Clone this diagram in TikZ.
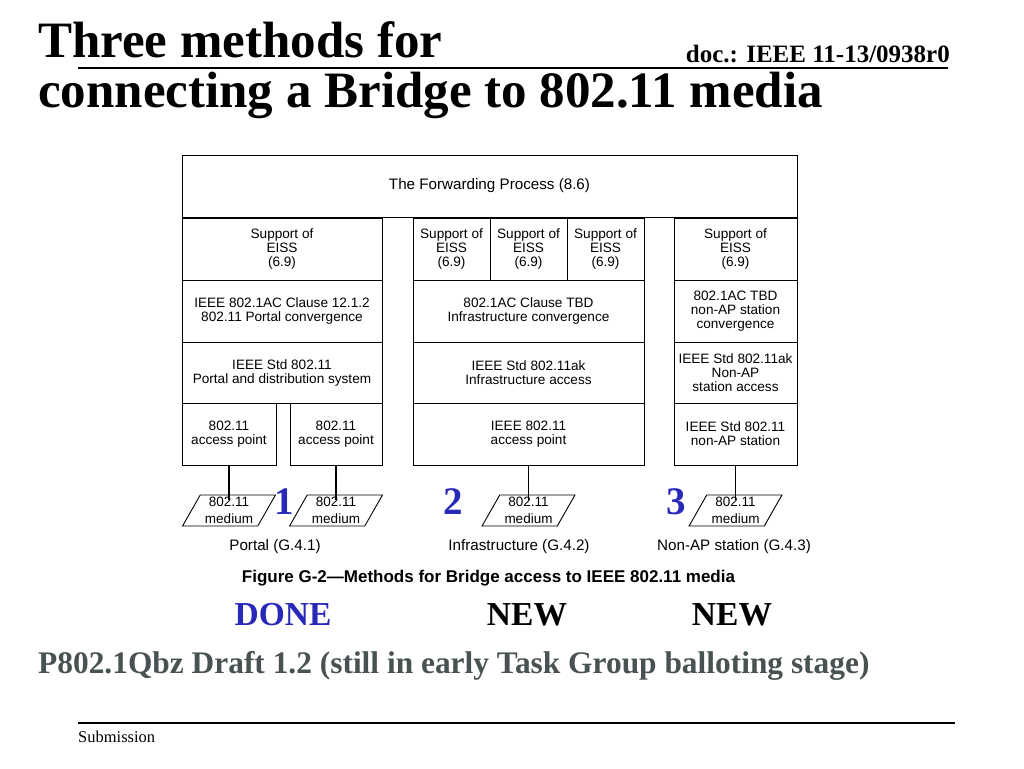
\documentclass[tikz,border=0pt]{standalone}
\usepackage{fontspec}
\setmainfont{Liberation Serif}
\setsansfont{Liberation Sans}
\usetikzlibrary{shapes.geometric}
\definecolor{numblue}{RGB}{40,40,185}
\definecolor{subgrey}{RGB}{72,82,82}
\begin{document}
\begin{tikzpicture}[x=1pt,y=-1pt,
 box/.style={draw, line width=0.9pt, inner sep=0pt, align=center, font=\sffamily\fontsize{13.6}{14}\selectfont},
 med/.style={draw, trapezium, trapezium left angle=61, trapezium right angle=119, trapezium stretches=true, minimum width=93, minimum height=31, inner sep=0pt, line width=0.9pt, align=center, font=\sffamily\fontsize{13.5}{17}\selectfont},
 conn/.style={line width=1.6pt, shorten >=-5pt},
 num/.style={inner sep=0pt, font=\bfseries\fontsize{39}{39}\selectfont, text=numblue},
 lab/.style={inner sep=0pt, font=\sffamily\fontsize{15.2}{17}\selectfont},
 ttl/.style={inner sep=0pt, anchor=base west, font=\bfseries\fontsize{51}{51}\selectfont},
 rule/.style={line width=1.3pt},
]
\useasboundingbox (0,0) rectangle (1024,768);
% header
\node[ttl] (t1) at (38,58) {Three methods for};
\node[ttl] (t2) at (38,107) {connecting a Bridge to 802.11 media};
\node[inner sep=0pt, anchor=base east, font=\bfseries\fontsize{25}{25}\selectfont] (doc) at (950,63) {doc.: IEEE 11-13/0938r0};
\coordinate (hl) at (78,68); \coordinate (hr) at (948,68);
\draw[rule] (hl) -- (hr);
% diagram
\node[box, minimum width=615, minimum height=62, font=\sffamily\fontsize{15.2}{16}\selectfont] (fp) at (489.5,186) {The Forwarding Process (8.6)};
\node[box, minimum width=200, minimum height=62] (s1) at (282,249) {Support of\\EISS\\(6.9)};
\node[box, minimum width=77, minimum height=62] (s2) at (451.5,249) {Support of\\EISS\\(6.9)};
\node[box, minimum width=77, minimum height=62] (s3) at (528.5,249) {Support of\\EISS\\(6.9)};
\node[box, minimum width=77, minimum height=62] (s4) at (605.5,249) {Support of\\EISS\\(6.9)};
\node[box, minimum width=123, minimum height=62] (s5) at (735.5,249) {Support of\\EISS\\(6.9)};
\node[box, minimum width=200, minimum height=62] (c1) at (282,311) {IEEE 802.1AC Clause 12.1.2\\802.11 Portal convergence};
\node[box, minimum width=231, minimum height=62] (c2) at (528.5,311) {802.1AC Clause TBD\\Infrastructure convergence};
\node[box, minimum width=123, minimum height=62] (c3) at (735.5,311) {802.1AC TBD\\non-AP station\\convergence};
\node[box, minimum width=200, minimum height=61] (d1) at (282,372.5) {IEEE Std 802.11\\Portal and distribution system};
\node[box, minimum width=231, minimum height=61] (d2) at (528.5,372.5) {IEEE Std 802.11ak\\Infrastructure access};
\node[box, minimum width=123, minimum height=61] (d3) at (735.5,372.5) {IEEE Std 802.11ak\\Non-AP\\station access};
\node[box, minimum width=94, minimum height=62] (a1) at (229,434) {802.11\\access point};
\node[box, minimum width=92, minimum height=62] (a2) at (336,434) {802.11\\access point};
\node[box, minimum width=231, minimum height=62] (a3) at (528.5,434) {IEEE 802.11\\access point};
\node[box, minimum width=123, minimum height=62] (a4) at (735.5,434) {IEEE Std 802.11\\non-AP station};
% media
\node[med] (m1) at (229,510.5) {802.11\\medium};
\node[med] (m2) at (336,510.5) {802.11\\medium};
\node[med] (m3) at (528.5,510.5) {802.11\\medium};
\node[med] (m4) at (735.5,510.5) {802.11\\medium};
\draw[conn] (a1.south) -- (a1.south |- m1.north);
\draw[conn] (a2.south) -- (a2.south |- m2.north);
\draw[conn] (a3.south) -- (a3.south |- m3.north);
\draw[conn] (a4.south) -- (a4.south |- m4.north);
% numbers
\node[num] (n1) at (284,502) {1};
\node[num] (n2) at (453,502) {2};
\node[num] (n3) at (676,502) {3};
% labels
\node[lab] (l1) at (275,547) {Portal (G.4.1)};
\node[lab] (l2) at (519,547) {Infrastructure (G.4.2)};
\node[lab] (l3) at (734,547) {Non-AP station (G.4.3)};
\node[inner sep=0pt, font=\sffamily\bfseries\fontsize{17}{18}\selectfont] (cap) at (488.5,578) {Figure G-2---Methods for Bridge access to IEEE 802.11 media};
% status
\node[inner sep=0pt, font=\bfseries\fontsize{33.5}{33}\selectfont, text=numblue] (done) at (283,615) {DONE};
\node[inner sep=0pt, font=\bfseries\fontsize{33.5}{33}\selectfont] (new1) at (527,615) {NEW};
\node[inner sep=0pt, font=\bfseries\fontsize{33.5}{33}\selectfont] (new2) at (732,615) {NEW};
\node[inner sep=0pt, anchor=base west, text=subgrey, font=\bfseries\fontsize{31.4}{31}\selectfont] (draft) at (38,673) {P802.1Qbz Draft 1.2 (still in early Task Group balloting stage)};
% footer
\coordinate (fl) at (78,723); \coordinate (fr) at (955,723);
\draw[rule] (fl) -- (fr);
\node[inner sep=0pt, anchor=base west, font=\fontsize{16.5}{16}\selectfont] (sub) at (78,742) {Submission};
\end{tikzpicture}
\end{document}
